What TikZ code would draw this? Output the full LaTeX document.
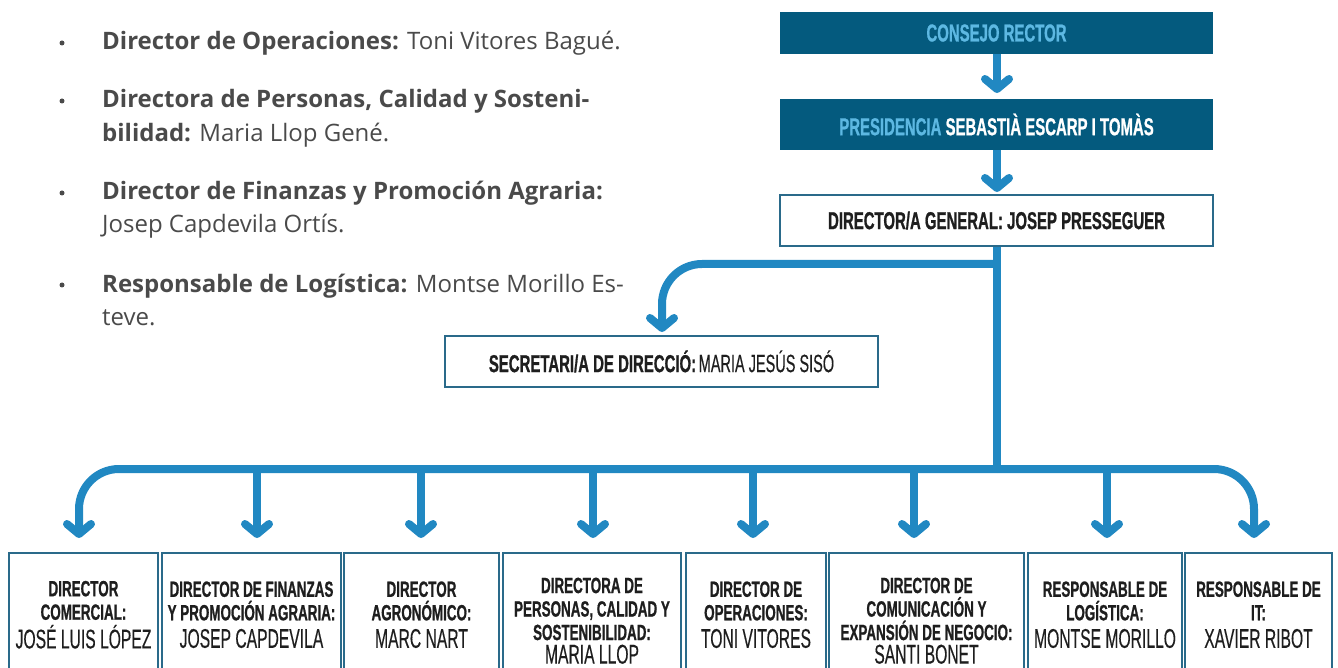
\documentclass[tikz,border=0pt]{standalone}
\usepackage{fontspec}
\setmainfont{Open Sans}
\newfontfamily\condH[FakeStretch=0.61,BoldFeatures={FakeBold=0.8}]{Liberation Sans}
\newfontfamily\condN[FakeStretch=0.58,FakeBold=0.3]{Liberation Sans}
\usetikzlibrary{arrows.meta,calc}
\definecolor{dteal}{HTML}{045A7E}
\definecolor{lblue}{HTML}{5DB8E2}
\definecolor{abl}{HTML}{2188C2}
\definecolor{bord}{HTML}{2A6A8A}
\definecolor{txt}{HTML}{1E1E1E}
\definecolor{gtxt}{HTML}{4A4A4A}
\newcommand{\hd}{\condH\bfseries\fontsize{22}{23.5}\selectfont}
\newcommand{\nm}{\condN\mdseries\fontsize{27}{26}\selectfont}
\newcommand{\tp}{\condH\bfseries\fontsize{24.5}{26}\selectfont}
\newcommand{\tpn}{\condN\mdseries\fontsize{25}{26}\selectfont}
\begin{document}
\begin{tikzpicture}[x=1pt,y=-1pt,
  darkbox/.style={fill=dteal,draw=none,minimum width=433pt,inner sep=0pt},
  wbox/.style={fill=white,draw=bord,line width=1.5pt,minimum width=433pt,minimum height=51pt,inner sep=0pt},
  botbox/.style={fill=white,draw=bord,line width=1.5pt,minimum height=124pt,anchor=north,inner sep=0pt,align=center,text=txt,font=\hd},
  tallbox/.style={botbox,minimum height=136pt},
  conn/.style={draw=abl,line width=8pt},
  tipd/.style={-{Straight Barb[length=10pt,width=24pt,round]}},
  bul/.style={circle,fill=gtxt,inner sep=0pt,minimum size=5pt},
  ltxt/.style={anchor=base west,inner sep=0pt,text=gtxt,font=\fontsize{24}{28}\selectfont}]
\useasboundingbox (0,0) rectangle (1338,668);
\clip (0,0) rectangle (1338,668);
% left list
\node[bul] (d1) at (62,43) {};
\node[ltxt] (l1) at (102,50) {\textbf{Director de Operaciones:} Toni Vitores Bagué.};
\node[bul] (d2) at (62,101) {};
\node[ltxt] (l2) at (102,108) {\textbf{Directora de Personas, Calidad y Sosteni-}};
\node[ltxt] (l3) at (102,142) {\textbf{bilidad:} Maria Llop Gené.};
\node[bul] (d3) at (62,193) {};
\node[ltxt] (l4) at (102,200) {\textbf{Director de Finanzas y Promoción Agraria:}};
\node[ltxt] (l5) at (102,233) {Josep Capdevila Ortís.};
\node[bul] (d4) at (62,285) {};
\node[ltxt] (l6) at (102,292) {\textbf{Responsable de Logística:} Montse Morillo Es-};
\node[ltxt] (l7) at (102,325) {teve.};
% top boxes
\node[darkbox,minimum height=42pt] (cr) at (996.5,33) {\tp\color{lblue}CONSEJO RECTOR};
\node[darkbox,minimum height=51pt] (pr) at (996.5,124.5) {\tp{\color{lblue}PRESIDENCIA} \color{white}SEBASTIÀ ESCARP I TOMÀS};
\node[wbox] (dg) at (996.5,220.5) {\tp\color{txt}DIRECTOR/A GENERAL: JOSEP PRESSEGUER};
\node[wbox] (sec) at (661.5,361.5) {\color{txt}{\tp SECRETARI/A DE DIRECCIÓ:} {\tpn MARIA JESÚS SISÓ}};
% bottom boxes
\node[botbox,minimum width=149pt] (b1) at (83.5,552) {DIRECTOR\\ COMERCIAL:\\[4pt] \nm JOSÉ LUIS LÓPEZ};
\node[botbox,minimum width=179pt] (b2) at (251.5,552) {DIRECTOR DE FINANZAS\\ Y PROMOCIÓN AGRARIA:\\[4pt] \nm JOSEP CAPDEVILA};
\node[botbox,minimum width=155pt] (b3) at (421.5,552) {DIRECTOR\\ AGRONÓMICO:\\[4pt] \nm MARC NART};
\node[tallbox,minimum width=178pt] (b4) at (592,552) {DIRECTORA DE\\ PERSONAS, CALIDAD Y\\ SOSTENIBILIDAD:\\ \nm MARIA LLOP};
\node[botbox,minimum width=140pt] (b5) at (756,552) {DIRECTOR DE\\ OPERACIONES:\\[4pt] \nm TONI VITORES};
\node[tallbox,minimum width=195pt] (b6) at (926.5,552) {DIRECTOR DE\\ COMUNICACIÓN Y\\ EXPANSIÓN DE NEGOCIO:\\ \nm SANTI BONET};
\node[botbox,minimum width=154pt] (b7) at (1105,552) {RESPONSABLE DE\\ LOGÍSTICA:\\[4pt] \nm MONTSE MORILLO};
\node[botbox,minimum width=147pt] (b8) at (1258.5,552) {RESPONSABLE DE\\ IT:\\[4pt] \nm XAVIER RIBOT};
% connector points
\coordinate (tp1) at (997,93);
\coordinate (tp2) at (997,192);
\coordinate (js) at (997,264);
\coordinate (jb) at (997,469);
\coordinate (ts) at (662,332);
\coordinate (a1) at (79,538);
\coordinate (a2) at (257,538);
\coordinate (a3) at (421,538);
\coordinate (a4) at (593,538);
\coordinate (a5) at (753,538);
\coordinate (a6) at (914,538);
\coordinate (a7) at (1107,538);
\coordinate (a8) at (1254,538);
% connectors
\draw[conn,tipd] (cr.south -| tp1) -- (tp1);
\draw[conn,tipd] (pr.south -| tp2) -- (tp2);
\draw[conn] (dg.south -| jb) -- ([yshift=-4pt]jb);
\draw[conn,tipd,rounded corners=40pt] (js) -| (ts);
\draw[conn,tipd,rounded corners=40pt] (jb) -| (a1);
\draw[conn,tipd,rounded corners=40pt] (jb) -| (a8);
\foreach \i in {2,...,7} {\draw[conn,tipd] (jb -| a\i) -- (a\i);}
\end{tikzpicture}
\end{document}
